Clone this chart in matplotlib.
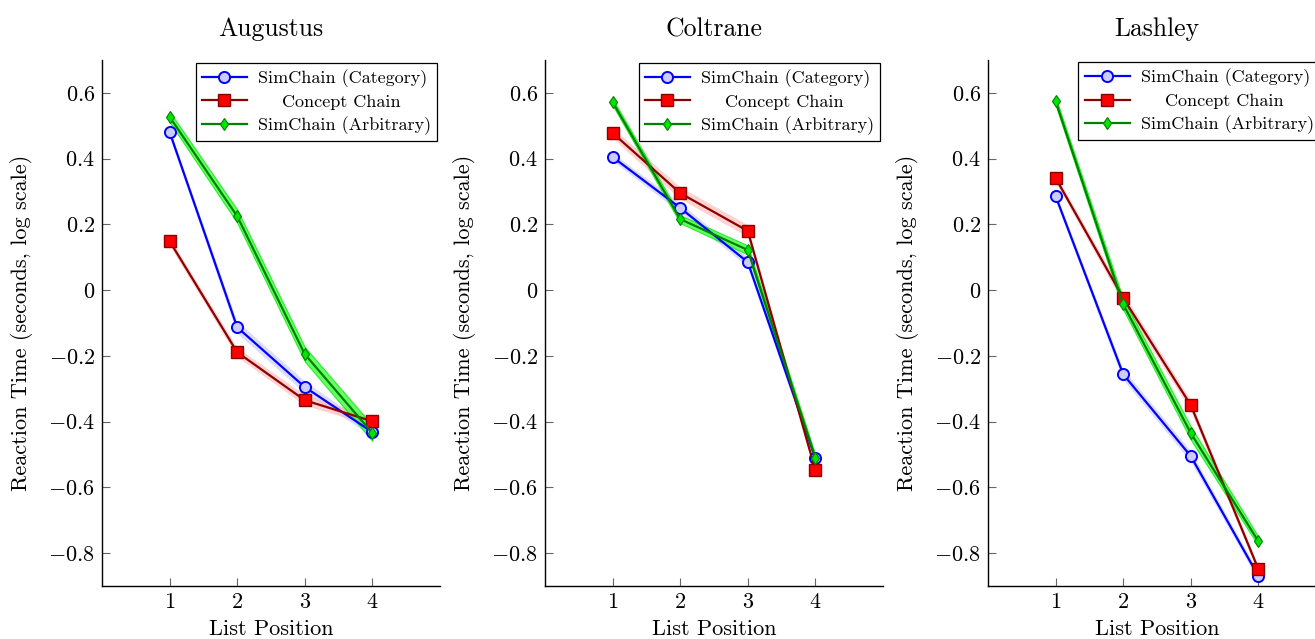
import numpy as np
import matplotlib
matplotlib.use("Agg")
import matplotlib.pyplot as plt
from matplotlib.ticker import FuncFormatter

plt.rcParams['font.family'] = 'serif'
plt.rcParams['font.serif'] = ['cmr10', 'DejaVu Serif']
plt.rcParams['mathtext.fontset'] = 'cm'
plt.rcParams['axes.unicode_minus'] = True

# Datos
posiciones = [1, 2, 3, 4]
sujetos = ['Augustus', 'Coltrane', 'Lashley']
etiquetas = ['SimChain (Category)', 'Concept Chain', 'SimChain (Arbitrary)']

categoria = {
    'Augustus': [0.481, -0.113, -0.295, -0.432],
    'Coltrane': [0.405, 0.250, 0.085, -0.512],
    'Lashley': [0.286, -0.256, -0.505, -0.870],
}
concepto = {
    'Augustus': [0.149, -0.189, -0.335, -0.399],
    'Coltrane': [0.478, 0.295, 0.180, -0.548],
    'Lashley': [0.341, -0.024, -0.350, -0.849],
}
arbitraria = {
    'Augustus': [0.527, 0.225, -0.195, -0.435],
    'Coltrane': [0.572, 0.216, 0.122, -0.511],
    'Lashley': [0.575, -0.043, -0.435, -0.764],
}
# semiancho de la banda sombreada
err_categoria = {
    'Augustus': [0.012, 0.018, 0.018, 0.012],
    'Coltrane': [0.012, 0.014, 0.014, 0.012],
    'Lashley': [0.012, 0.016, 0.016, 0.012],
}
err_concepto = {
    'Augustus': [0.012, 0.014, 0.016, 0.014],
    'Coltrane': [0.016, 0.018, 0.018, 0.012],
    'Lashley': [0.012, 0.016, 0.016, 0.012],
}
err_arbitraria = {
    'Augustus': [0.016, 0.020, 0.022, 0.024],
    'Coltrane': [0.010, 0.012, 0.014, 0.010],
    'Lashley': [0.012, 0.016, 0.020, 0.014],
}

estilos = [
    dict(color='blue', marker='o', mfc=(0.8, 0.8, 1.0), mec='blue', ms=8, mew=1.4,
         banda=(0.8, 0.8, 1.0), alfa=0.7, borde='none'),
    dict(color=(0.55, 0, 0), marker='s', mfc='red', mec=(0.55, 0, 0), ms=8, mew=1.0,
         banda=(1.0, 0.7, 0.7), alfa=0.6, borde='none'),
    dict(color=(0, 0.5, 0), marker='d', mfc=(0, 0.9, 0), mec=(0, 0.5, 0), ms=6.5, mew=0.8,
         banda=(0.2, 1.0, 0.2), alfa=0.75, borde=(0, 0.9, 0)),
]

fig = plt.figure(figsize=(13.15, 6.39), dpi=100)
izquierdas = [102, 545, 988]
fmt = FuncFormatter(lambda v, p: '$%g$' % round(v, 1) if abs(v) > 1e-9 else '$0$')

for i, (izq, sujeto) in enumerate(zip(izquierdas, sujetos)):
    ax = fig.add_axes([izq / 1315, 53 / 639, 338 / 1315, 526 / 639])
    series = [(categoria, err_categoria), (concepto, err_concepto), (arbitraria, err_arbitraria)]
    for (datos, errs), est, etiqueta in zip(series, estilos, etiquetas):
        y = np.array(datos[sujeto])
        e = np.array(errs[sujeto])
        ax.fill_between(posiciones, y - e, y + e, facecolor=est['banda'], alpha=est['alfa'],
                        edgecolor=est['borde'], linewidth=0.8, zorder=1)
        ax.plot(posiciones, y, color=est['color'], lw=1.6, marker=est['marker'],
                mfc=est['mfc'], mec=est['mec'], ms=est['ms'], mew=est['mew'],
                label=etiqueta, zorder=3)
    ax.set_xlim(0, 5)
    ax.set_ylim(-0.9, 0.7)
    ax.set_xticks(posiciones)
    ax.set_xticklabels(['$%d$' % p for p in posiciones])
    ax.set_yticks([-0.8, -0.6, -0.4, -0.2, 0, 0.2, 0.4, 0.6])
    ax.yaxis.set_major_formatter(fmt)
    ax.tick_params(direction='in', length=6, width=0.8, color='0.4', labelsize=16, pad=5)
    ax.spines['top'].set_visible(False)
    ax.spines['right'].set_visible(False)
    ax.spines['left'].set_linewidth(1.0)
    ax.spines['bottom'].set_linewidth(1.0)
    ax.set_title(sujeto, fontsize=18.5, pad=17)
    ax.set_xlabel('List Position', fontsize=16, labelpad=5)
    ax.set_ylabel('Reaction Time (seconds, log scale)', fontsize=16, labelpad=11)

    # las celdas de la leyenda van centradas, como en pgfplots
    handles, labels = ax.get_legend_handles_labels()
    labels[1] = '    ' + labels[1]
    opciones = dict(fontsize=13, frameon=True, fancybox=False, edgecolor='black',
                    framealpha=1, handlelength=2.5, labelspacing=0.35, borderpad=0.35,
                    handletextpad=0.6)
    if i < 2:
        leg = ax.legend(handles, labels, loc='upper right', borderaxespad=0.15, **opciones)
    else:
        # el tercer panel queda recortado por el borde de la figura
        leg = ax.legend(handles, labels, loc='upper right', borderaxespad=0,
                        bbox_to_anchor=(1320 / 1315, 577 / 639),
                        bbox_transform=fig.transFigure, **opciones)
    leg.get_frame().set_linewidth(0.9)

fig.savefig('out.png', dpi=100)
